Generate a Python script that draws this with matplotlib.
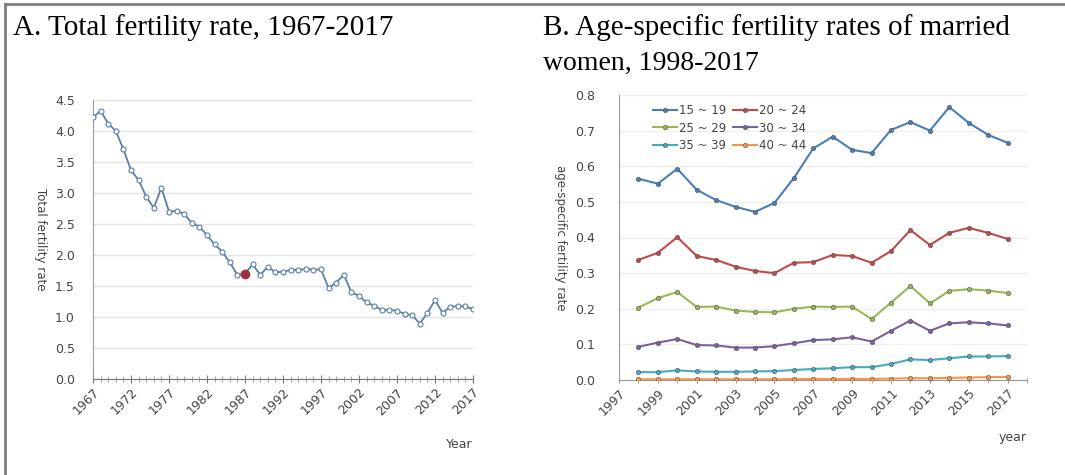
import numpy as np
import matplotlib.pyplot as plt
from matplotlib.lines import Line2D

# Panel A: total fertility rate
tfr_years = list(range(1967, 2018))
tfr = [4.22, 4.325, 4.12, 4.00, 3.705, 3.365, 3.21, 2.94, 2.76, 3.085,
       2.70, 2.71, 2.665, 2.515, 2.455, 2.32, 2.17, 2.055, 1.88, 1.68,
       1.70, 1.85, 1.68, 1.81, 1.72, 1.73, 1.76, 1.76, 1.775, 1.76,
       1.77, 1.465, 1.555, 1.68, 1.40, 1.34, 1.235, 1.18, 1.115, 1.115,
       1.10, 1.05, 1.03, 0.895, 1.065, 1.27, 1.065, 1.165, 1.175, 1.17,
       1.125]
tfr_ticks = list(range(1967, 2018, 5))
highlight_year = 1987

# Panel B: age-specific fertility rates of married women
asfr_years = list(range(1998, 2018))
age_groups = ["15 ~ 19", "20 ~ 24", "25 ~ 29", "30 ~ 34", "35 ~ 39", "40 ~ 44"]
r15 = [0.565, 0.551, 0.593, 0.534, 0.505, 0.486, 0.472, 0.497, 0.567, 0.650,
       0.683, 0.646, 0.637, 0.702, 0.724, 0.700, 0.766, 0.722, 0.688, 0.666]
r20 = [0.337, 0.357, 0.401, 0.348, 0.337, 0.318, 0.306, 0.300, 0.329, 0.331,
       0.351, 0.348, 0.329, 0.362, 0.421, 0.379, 0.413, 0.427, 0.413, 0.396]
r25 = [0.203, 0.230, 0.247, 0.205, 0.206, 0.195, 0.191, 0.190, 0.200, 0.206,
       0.205, 0.206, 0.171, 0.217, 0.264, 0.215, 0.250, 0.255, 0.251, 0.244]
r30 = [0.093, 0.105, 0.115, 0.098, 0.097, 0.091, 0.091, 0.095, 0.103, 0.112,
       0.114, 0.120, 0.108, 0.138, 0.167, 0.138, 0.159, 0.162, 0.159, 0.153]
r35 = [0.022, 0.022, 0.027, 0.024, 0.023, 0.023, 0.024, 0.025, 0.028, 0.031,
       0.033, 0.036, 0.036, 0.045, 0.058, 0.056, 0.061, 0.066, 0.066, 0.067]
r40 = [0.002, 0.002, 0.002, 0.002, 0.002, 0.002, 0.002, 0.002, 0.003, 0.003,
       0.003, 0.003, 0.003, 0.004, 0.005, 0.005, 0.006, 0.007, 0.008, 0.009]
asfr_ticks = list(range(1997, 2018, 2))
group_colors = ["#4a7ebb", "#be4b48", "#98b954", "#7d60a0", "#46aac5", "#f79646"]

tick_color = "#444444"
grid_color = "#e4e4e4"
serif = "Liberation Serif"

fig = plt.figure(figsize=(10.65, 4.75), dpi=100)

# frame lines of the surrounding table
fig.add_artist(Line2D([5 / 1065, 1], [1 - 4 / 475, 1 - 4 / 475],
                      color="#7f7f7f", lw=2))
fig.add_artist(Line2D([5 / 1065, 5 / 1065], [0, 1 - 4 / 475],
                      color="#7f7f7f", lw=2))

fig.text(13 / 1065, 1 - 35 / 475, "A. Total fertility rate, 1967-2017",
         family=serif, fontsize=21, va="baseline")
fig.text(543 / 1065, 1 - 35 / 475,
         "B. Age-specific fertility rates of married",
         family=serif, fontsize=21, va="baseline")
fig.text(543 / 1065, 1 - 70 / 475, "women, 1998-2017",
         family=serif, fontsize=20, va="baseline")

# --- A ---
ax1 = fig.add_axes([93 / 1065, 96 / 475, 380 / 1065, 279 / 475])
ax1.plot(tfr_years, tfr, color="#5b7fa6", lw=1.3, marker="o", ms=3.6,
         mfc="white", mec="#5b7fa6", mew=0.8, zorder=3)
hi = tfr_years.index(highlight_year)
ax1.plot(tfr_years[hi], tfr[hi], "o", color="#a0303a", ms=6, zorder=4)
ax1.set_xlim(1967, 2017)
ax1.set_ylim(0, 4.5)
ax1.set_yticks(np.arange(0, 4.51, 0.5))
ax1.set_yticklabels([f"{v:.1f}" for v in np.arange(0, 4.51, 0.5)])
ax1.set_xticks(tfr_ticks)
ax1.set_xticks(tfr_years, minor=True)
ax1.set_xticklabels([str(y) for y in tfr_ticks], rotation=45, ha="right",
                    rotation_mode="anchor")
ax1.grid(axis="y", color=grid_color, lw=1)
ax1.set_axisbelow(True)
for s in ["top", "right"]:
    ax1.spines[s].set_visible(False)
ax1.spines["left"].set_color("#999999")
ax1.spines["bottom"].set_color("#777777")
ax1.tick_params(axis="y", length=0, labelsize=9, labelcolor=tick_color,
                pad=13)
ax1.tick_params(axis="x", which="major", direction="inout", length=6,
                color="#777777", labelsize=9, labelcolor=tick_color, pad=2)
ax1.tick_params(axis="x", which="minor", direction="inout", length=4,
                color="#999999")
ax1.set_ylabel("Total fertility rate", rotation=270, fontsize=8.5,
               color=tick_color)
ax1.yaxis.set_label_coords(-0.155, 0.5)
ax1.text(1.0, -0.235, "Year", transform=ax1.transAxes, ha="right",
         va="center", fontsize=9, color=tick_color)

# --- B ---
ax2 = fig.add_axes([619 / 1065, 95 / 475, 408 / 1065, 285 / 475])
series = [r15, r20, r25, r30, r35, r40]
lines = []
for vals, lab, col in zip(series, age_groups, group_colors):
    ln, = ax2.plot(asfr_years, vals, color=col, lw=1.5, marker="o", ms=3.2,
                   mfc=col, mec="#555555", mew=0.4, label=lab, zorder=3)
    lines.append(ln)
ax2.set_xlim(1997, 2018)
ax2.set_ylim(0, 0.8)
ax2.set_yticks(np.arange(0, 0.81, 0.1))
ax2.set_yticklabels([f"{v:.1f}" for v in np.arange(0, 0.81, 0.1)])
ax2.set_xticks(asfr_ticks)
ax2.set_xticks(range(1997, 2019), minor=True)
ax2.set_xticklabels([str(y) for y in asfr_ticks], rotation=45, ha="right",
                    rotation_mode="anchor")
ax2.grid(axis="y", color="#efefef", lw=1)
ax2.set_axisbelow(True)
for s in ["top", "right"]:
    ax2.spines[s].set_visible(False)
ax2.spines["left"].set_color("#999999")
ax2.spines["bottom"].set_color("#999999")
ax2.tick_params(axis="y", length=0, labelsize=9, labelcolor=tick_color,
                pad=17)
ax2.tick_params(axis="x", which="major", direction="inout", length=5,
                color="#999999", labelsize=9, labelcolor=tick_color, pad=2)
ax2.tick_params(axis="x", which="minor", direction="inout", length=5,
                color="#999999")
ax2.set_ylabel("age-specific fertility rate", rotation=270, fontsize=8.5,
               color=tick_color)
ax2.yaxis.set_label_coords(-0.16, 0.5)
ax2.text(1.0, -0.2, "year", transform=ax2.transAxes, ha="right",
         va="center", fontsize=9, color=tick_color)
# legend is read row by row in the source: reorder for column filling
order = [0, 2, 4, 1, 3, 5]
ax2.legend([lines[i] for i in order], [age_groups[i] for i in order],
           loc="upper left", ncol=2, frameon=False, fontsize=8.5,
           handlelength=2.0, handletextpad=0.2, columnspacing=0.6,
           labelspacing=0.35, bbox_to_anchor=(0.06, 1.0),
           labelcolor=tick_color, borderpad=0.3)

fig.savefig("out.png", dpi=100)
